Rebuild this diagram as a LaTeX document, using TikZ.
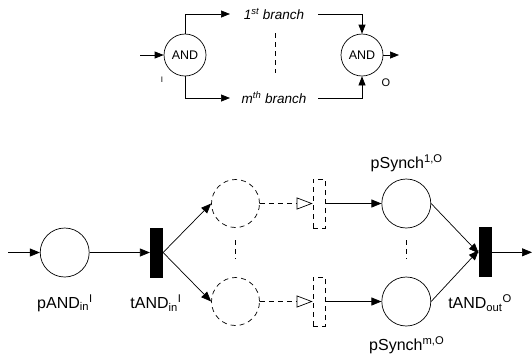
\documentclass[tikz,border=0pt]{standalone}
\usepackage{fontspec}
\setmainfont{Liberation Sans}
\usetikzlibrary{arrows.meta}
\begin{document}
\begin{tikzpicture}[x=1pt,y=-1pt,
  line width=0.7pt,
  tip/.style={-{Triangle[length=10pt,width=8pt]}},
  ttip/.style={-{Triangle[length=9pt,width=7pt]}},
  opentip/.style={-{Triangle[open,length=16pt,width=12pt]}},
  andplace/.style={circle,draw,minimum size=42pt,inner sep=0pt,font=\fontsize{12.5}{14}\selectfont},
  place/.style={circle,draw,minimum size=49pt,inner sep=0pt},
  dplace/.style={circle,draw,dash pattern=on 5pt off 4pt,minimum size=48pt,inner sep=0pt},
  trans/.style={rectangle,draw,fill=black,minimum width=12.5pt,minimum height=49pt,inner sep=0pt},
  dtrans/.style={rectangle,draw,dash pattern=on 5pt off 4pt,minimum width=12pt,minimum height=49pt,inner sep=0pt},
  lbl/.style={font=\fontsize{16}{18}\selectfont,inner sep=0pt},
  brl/.style={font=\fontsize{13.5}{15}\selectfont\itshape,inner sep=0pt},
  small/.style={font=\fontsize{10}{12}\selectfont,inner sep=0pt},
  dline/.style={dash pattern=on 5pt off 4pt}]
\useasboundingbox (0,0) rectangle (532,360);
% ---------- top part ----------
\node[andplace] (a1) at (185,55) {AND};
\node[andplace] (a2) at (362,55) {AND};
\coordinate (ain) at (140,55);
\coordinate (aout) at (399,55);
\node[small,font=\fontsize{8}{9}\selectfont] (il) at (162,80) {I};
\node[small,font=\fontsize{11}{12}\selectfont] (ol) at (386,83) {O};
\node[brl] (b1) at (274,14) {1\textsuperscript{st} branch};
\node[brl] (bm) at (274,98) {m\textsuperscript{th} branch};
\coordinate (b1l) at (230,14);
\coordinate (b1r) at (318,14);
\coordinate (bml) at (230,98);
\coordinate (bmr) at (318,98);
\draw[ttip] (ain) -- (a1.west);
\draw[ttip] (a2.east) -- (aout);
\draw[ttip] (a1.north) |- (b1l);
\draw[ttip] (b1r) -| (a2.north);
\draw[ttip] (a1.south) |- (bml);
\draw[ttip] (bmr) -| (a2.south);
\coordinate (dv1) at (275,33);
\coordinate (dv2) at (275,73);
\draw[dline] (dv1) -- (dv2);
% ---------- bottom part ----------
\coordinate (pin) at (8,252.5);
\node[place] (pand) at (64.7,252.5) {};
\node[trans] (tin) at (156.5,252.5) {};
\node[dplace] (d1) at (235.5,203.5) {};
\node[dplace] (d2) at (235.5,301.5) {};
\node[dtrans] (dt1) at (319,203.5) {};
\node[dtrans] (dt2) at (319,301.5) {};
\node[place] (ps1) at (406.3,203.5) {};
\node[place] (ps2) at (406.3,301.5) {};
\node[trans] (tout) at (485.3,252.3) {};
\coordinate (pout) at (532,252.3);
\node[lbl] (lpand) at (65,303) {pAND\textsubscript{in}\textsuperscript{I}};
\node[lbl] (ltin) at (156,303) {tAND\textsubscript{in}\textsuperscript{I}};
\node[lbl] (lps1) at (406.7,163) {pSynch\textsuperscript{1,O}};
\node[lbl] (lps2) at (406.7,345) {pSynch\textsuperscript{m,O}};
\node[lbl] (ltout) at (480,303) {tAND\textsubscript{out}\textsuperscript{O}};
\draw[tip] (pin) -- (pand.west);
\draw[tip] (pand.east) -- (tin.west);
\draw[tip] (tin.east) -- (d1.west);
\draw[tip] (tin.east) -- (d2.west);
\draw[dline,opentip] (d1.east) -- (dt1.west);
\draw[dline,opentip] (d2.east) -- (dt2.west);
\draw[tip] (dt1.east) -- (ps1.west);
\draw[tip] (dt2.east) -- (ps2.west);
\draw[tip] (ps1.east) -- ([yshift=-1pt]tout.west);
\draw[tip] (ps2.east) -- ([yshift=2pt]tout.west);
\draw[tip] (tout.east) -- (pout);
\coordinate (dva) at (235.5,240);
\coordinate (dvb) at (235.5,259);
\draw[dline] (dva) -- (dvb);
\coordinate (dvc) at (406.7,240);
\coordinate (dvd) at (406.7,259);
\draw[dline] (dvc) -- (dvd);
\end{tikzpicture}
\end{document}
